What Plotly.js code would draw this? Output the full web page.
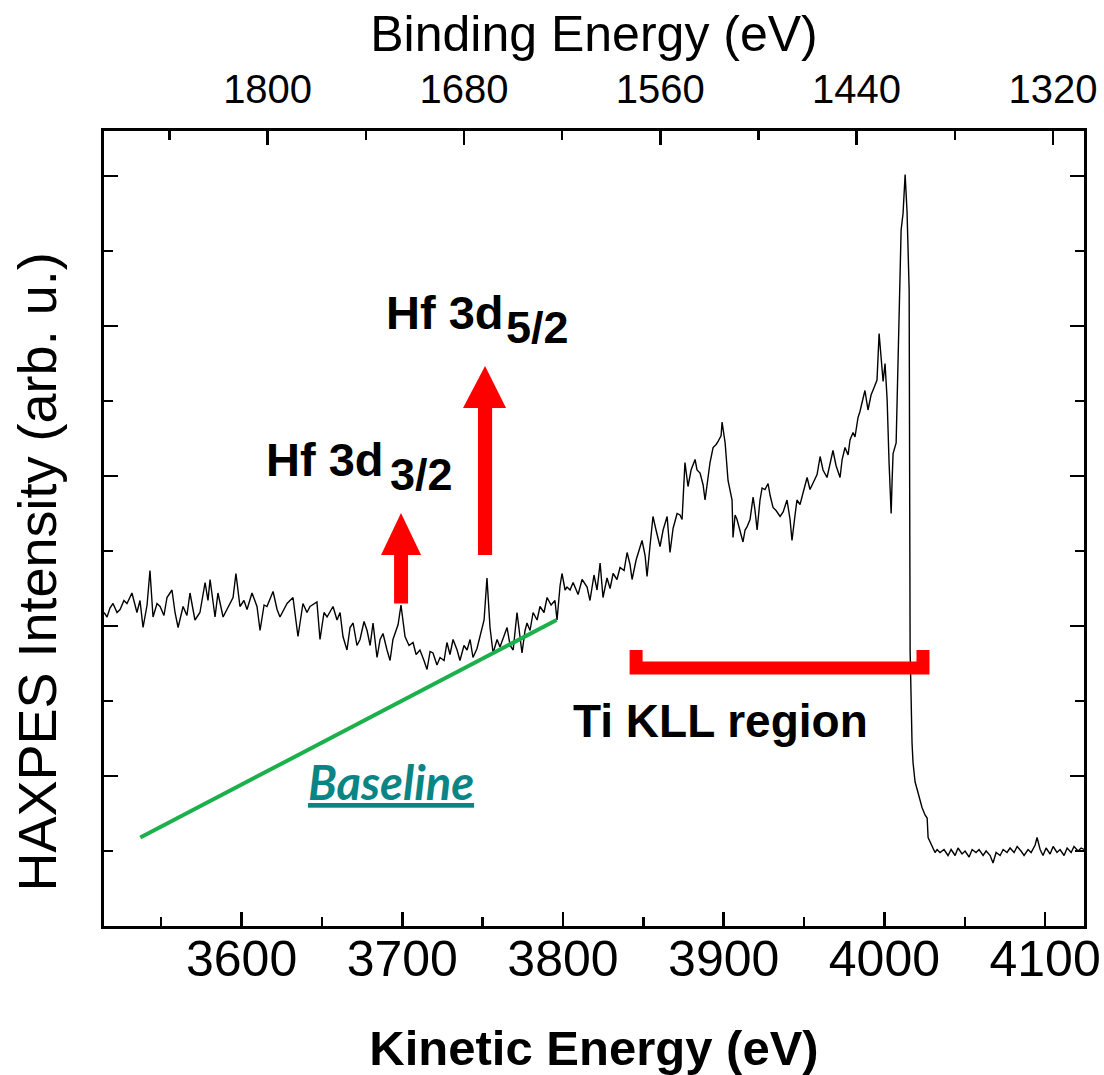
<!DOCTYPE html>
<html>
<head>
<meta charset="utf-8">
<script src="https://cdn.plot.ly/plotly-3.0.1.min.js"></script>
<style>html,body{margin:0;padding:0;background:#fff;}#chart{width:1104px;height:1075px;}</style>
</head>
<body>
<div id="chart"></div>
<script>
// Kinetic energy (eV) of the HAXPES spectrum
const kineticEnergy = [
3514.4,3516.3,3518.1,3520.0,3522.5,3524.4,3526.8,3528.7,3531.8,3534.9,3536.8,3538.7,3541.2,3543.0,3544.9,3547.4,3549.3,3551.7,3553.6,3556.7,
3558.6,3560.5,3563.6,3566.0,3567.9,3571.0,3574.1,3577.3,3579.1,3580.4,3583.5,3585.3,3588.5,3591.6,3594.7,3596.5,3599.0,3601.5,3603.4,3606.5,
3609.6,3611.5,3614.0,3615.8,3619.6,3622.1,3623.9,3628.3,3632.0,3635.1,3638.2,3640.7,3642.6,3646.9,3648.8,3651.3,3653.2,3656.9,3659.4,3661.3,
3663.1,3665.6,3667.5,3669.4,3671.8,3673.7,3676.2,3678.1,3680.0,3681.8,3684.3,3686.2,3688.0,3690.5,3692.4,3694.2,3695.5,3697.4,3699.2,3700.5,
3701.7,3704.2,3706.7,3708.6,3711.0,3713.5,3715.4,3717.3,3719.1,3721.6,3723.5,3726.0,3727.8,3729.7,3731.6,3734.1,3735.9,3738.4,3740.3,3742.2,
3744.0,3746.5,3748.4,3750.9,3752.7,3754.6,3756.5,3759.0,3760.8,3763.3,3765.2,3767.1,3769.0,3771.4,3773.3,3774.5,3776.4,3777.6,3779.5,3781.4,
3783.9,3785.7,3788.2,3790.1,3792.6,3795.0,3796.3,3798.2,3799.4,3801.3,3802.5,3804.4,3806.3,
3809.4,3811.9,3815.0,3816.8,3819.3,3821.2,3823.1,3824.9,3827.4,3829.3,3831.2,3833.6,3835.5,3838.0,3839.9,3841.7,3843.0,3845.5,3847.3,3849.2,
3851.1,3852.3,3854.2,3856.0,3857.9,3860.4,3862.3,3864.8,3866.6,3868.5,3871.0,3872.8,3874.1,3875.9,3877.8,3879.7,3882.2,3883.4,3885.3,3887.2,
3888.4,3890.3,3891.5,3893.4,3895.3,3896.5,3898.4,3899.0,3900.9,3902.7,3904.0,3905.2,3905.8,3907.1,3908.3,3910.2,3912.0,3913.3,3914.5,3916.4,
3918.3,3919.5,3920.8,3922.6,3923.9,3925.7,3927.6,3928.9,3930.7,3932.6,3935.1,3937.0,3939.4,3941.3,3942.5,3944.4,3945.6,3947.5,3949.4,3951.9,
3953.7,3955.6,3958.1,3960.0,3961.8,3964.3,3966.2,3968.0,3969.9,3972.4,3973.7,3975.5,3977.4,3978.6,3980.5,3981.7,3983.6,3984.8,3986.1,3987.9,
3989.8,3991.7,3993.6,3995.4,3996.7,3997.3,3997.9,3999.2,4000.4,4001.7,4002.9,4004.2,4004.8,4005.4,4007.3,4008.5,4009.7,4010.4,4011.6,4012.9,
4014.1,4015.4,4016.0,4016.6,4017.2,4017.8,4019.1,4020.9,4023.4,4025.3,4026.6,4027.2,4029.7,4031.5,4032.8,
4034.6,4037.1,4039.6,4041.5,4044.0,4045.8,4048.3,4050.2,4052.7,4054.6,4057.0,4058.9,4061.4,4063.3,4065.8,4067.6,4069.5,4072.0,4073.9,4076.3,
4078.2,4080.7,4082.6,4085.0,4086.9,4089.4,4091.3,4093.8,4095.0,4096.9,4098.7,4100.6,4103.1,4105.0,4107.4,4109.3,4111.8,4113.7,4116.2,4118.0,
4120.5,4122.4,4124.2
];
// HAXPES intensity (arb. u.)
const intensity = [
2.09,2.06,2.12,2.15,2.09,2.11,2.17,2.15,2.22,2.09,2.17,1.99,2.14,2.37,2.06,2.15,2.13,2.07,2.19,2.24,
2.09,1.99,2.13,2.07,2.22,2.04,2.09,2.29,2.17,2.31,2.06,2.22,2.06,2.13,2.19,2.35,2.13,2.17,2.11,2.22,
2.13,1.97,2.14,2.13,2.23,2.11,2.06,2.15,2.19,1.93,2.15,2.09,2.13,2.16,1.91,2.09,2.06,2.13,2.04,2.09,
1.93,1.84,1.99,2.02,1.87,1.91,2.03,1.97,1.87,2.02,1.79,1.91,1.95,1.84,1.77,1.91,1.95,2.01,2.14,2.03,
1.93,1.87,1.89,1.81,1.84,1.77,1.71,1.83,1.82,1.74,1.79,1.77,1.89,1.81,1.91,1.84,1.77,1.87,1.84,1.91,
1.79,1.85,1.93,2.04,2.32,1.99,1.82,1.91,1.86,1.94,1.99,1.87,1.84,2.09,1.91,1.82,1.97,2.02,1.97,2.09,
2.04,2.13,2.09,2.19,2.14,2.17,2.04,2.27,2.35,2.24,2.26,2.24,2.29,
2.21,2.31,2.26,2.17,2.34,2.24,2.42,2.19,2.32,2.25,2.35,2.31,2.39,2.37,2.49,2.41,2.31,2.44,2.51,2.57,
2.47,2.33,2.54,2.73,2.64,2.53,2.64,2.73,2.49,2.65,2.75,2.74,2.71,3.09,2.93,3.04,3.11,3.04,3.02,2.94,
2.84,3.01,3.09,3.19,3.21,3.23,3.27,3.36,3.22,2.97,2.91,2.84,2.59,2.74,2.71,2.64,2.56,2.64,2.66,2.71,
2.86,2.77,2.64,2.84,2.92,2.91,2.95,2.87,2.79,2.77,2.73,2.76,2.84,2.71,2.57,2.74,2.84,2.81,2.89,2.99,
2.91,2.95,3.01,3.13,3.04,2.99,3.09,3.17,3.07,2.99,3.11,3.19,3.14,3.24,3.29,3.26,3.39,3.43,3.49,3.57,
3.44,3.54,3.59,3.64,3.95,3.87,3.77,3.63,3.75,3.51,3.09,2.75,2.97,3.15,3.22,3.71,4.21,4.64,4.75,5.01,
4.76,4.24,1.84,1.49,1.22,1.09,0.96,0.89,0.79,0.74,0.72,0.59,0.53,0.49,0.51,
0.49,0.51,0.47,0.51,0.47,0.52,0.48,0.50,0.46,0.51,0.49,0.51,0.47,0.50,0.47,0.42,0.49,0.47,0.51,0.49,
0.52,0.49,0.53,0.50,0.47,0.51,0.49,0.54,0.59,0.51,0.47,0.52,0.48,0.53,0.49,0.51,0.47,0.52,0.49,0.53,
0.50,0.52,0.51
];
// Linear baseline drawn under the Hf 3d region
const baselineX = [3537, 3796];
const baselineY = [0.59, 2.04];

const kineticTicks = [3600, 3700, 3800, 3900, 4000, 4100];
const bindingTicks = [1800, 1680, 1560, 1440, 1320];

const FONT = 'Arial, "Liberation Sans", sans-serif';
const RED = '#ff0000';

const traces = [
  {x: kineticEnergy, y: intensity, type: 'scatter', mode: 'lines',
   line: {color: '#000000', width: 1.4}, hoverinfo: 'skip', showlegend: false},
  {x: baselineX, y: baselineY, type: 'scatter', mode: 'lines',
   line: {color: '#1cb04c', width: 4}, hoverinfo: 'skip', showlegend: false},
  // invisible carrier so the binding-energy (top) axis is drawn
  {x: bindingTicks, y: bindingTicks.map(() => 0), xaxis: 'x2', yaxis: 'y', type: 'scatter',
   mode: 'markers', marker: {opacity: 0}, hoverinfo: 'skip', showlegend: false}
];

const axisCommon = {
  showgrid: false, zeroline: false, showline: true, linecolor: '#000', linewidth: 3,
  ticks: 'inside', ticklen: 14, tickwidth: 2.5, tickcolor: '#000'
};

const layout = {
  width: 1104, height: 1075,
  margin: {l: 104, r: 20, t: 131, b: 149},
  paper_bgcolor: '#fff', plot_bgcolor: '#fff',
  showlegend: false,
  font: {family: FONT, color: '#000'},
  xaxis: Object.assign({}, axisCommon, {
    range: [3514.4, 4124.2], tickvals: kineticTicks, ticktext: kineticTicks.map(String),
    minor: {dtick: 50, tick0: 3550, ticks: 'inside', ticklen: 9, tickwidth: 2.5, tickcolor: '#000'},
    tickfont: {family: FONT, size: 50, color: '#000'}, ticklabelstandoff: -13,
    title: {text: '<b>Kinetic Energy (eV)</b>', font: {family: FONT, size: 49, color: '#000'}, standoff: 45},
    mirror: false, automargin: false
  }),
  xaxis2: Object.assign({}, axisCommon, {
    overlaying: 'x', side: 'top', anchor: 'y',
    range: [1900, 1301], tickvals: bindingTicks, ticktext: bindingTicks.map(String),
    minor: {dtick: 60, tick0: 1320, ticks: 'inside', ticklen: 9, tickwidth: 2.5, tickcolor: '#000'},
    tickfont: {family: FONT, size: 40, color: '#000'}, ticklabelstandoff: 9,
    title: {text: 'Binding Energy (eV)', font: {family: FONT, size: 50, color: '#000'}, standoff: 0},
    automargin: false
  }),
  yaxis: Object.assign({}, axisCommon, {
    range: [0, 5.3], dtick: 1, tick0: 0, showticklabels: false, mirror: 'ticks',
    minor: {dtick: 0.5, tick0: 0.5, ticks: 'inside', ticklen: 9, tickwidth: 2.5, tickcolor: '#000'},
    automargin: false
  }),
  shapes: [
    // Hf 3d3/2 arrow
    {type: 'rect', xref: 'x', yref: 'y', x0: 3694.9, x1: 3703.6, y0: 2.15, y1: 2.49,
     fillcolor: RED, line: {width: 0}},
    {type: 'path', xref: 'x', yref: 'y', path: 'M 3686.8 2.473 L 3711.7 2.473 L 3699.2 2.753 Z',
     fillcolor: RED, line: {width: 0}},
    // Hf 3d5/2 arrow
    {type: 'rect', xref: 'x', yref: 'y', x0: 3747.1, x1: 3755.9, y0: 2.473, y1: 3.47,
     fillcolor: RED, line: {width: 0}},
    {type: 'path', xref: 'x', yref: 'y', path: 'M 3737.8 3.453 L 3764.6 3.453 L 3751.5 3.733 Z',
     fillcolor: RED, line: {width: 0}},
    // Ti KLL bracket
    {type: 'path', xref: 'x', yref: 'y', path: 'M 3845.5 1.84 L 3845.5 1.72 L 4024.0 1.72 L 4024.0 1.84',
     line: {color: RED, width: 13}}
  ],
  annotations: [
    // y-axis title (placed off-centre like the original)
    {xref: 'paper', yref: 'paper', x: -0.068, y: 0.445, xanchor: 'center', yanchor: 'middle',
     showarrow: false, textangle: -90,
     text: 'HAXPES Intensity (arb. u.)', font: {family: FONT, size: 54, color: '#000'}},
    {xref: 'x', yref: 'y', x: 3688.5, y: 4.093, xanchor: 'left', yanchor: 'middle', showarrow: false,
     text: '<b>Hf 3d</b>', font: {family: FONT, size: 47, color: '#000'}},
    {xref: 'x', yref: 'y', x: 3763.6, y: 3.993, xanchor: 'left', yanchor: 'middle', showarrow: false,
     text: '<b>5/2</b>', font: {family: FONT, size: 45, color: '#000'}},
    {xref: 'x', yref: 'y', x: 3613.8, y: 3.113, xanchor: 'left', yanchor: 'middle', showarrow: false,
     text: '<b>Hf 3d</b>', font: {family: FONT, size: 47, color: '#000'}},
    {xref: 'x', yref: 'y', x: 3691.4, y: 3.013, xanchor: 'left', yanchor: 'middle', showarrow: false,
     text: '<b>3/2</b>', font: {family: FONT, size: 45, color: '#000'}},
    {xref: 'x', yref: 'y', x: 3805.0, y: 1.367, xanchor: 'left', yanchor: 'middle', showarrow: false,
     text: '<b>Ti KLL region</b>', font: {family: FONT, size: 46, color: '#000'}},
    {xref: 'x', yref: 'y', x: 3640.0, y: 0.96, xanchor: 'left', yanchor: 'middle', showarrow: false,
     text: '<b><i><u>Baseline</u></i></b>', font: {family: 'Lato, sans-serif', size: 47, color: '#0a8585'}}
  ]
};

Plotly.newPlot('chart', traces, layout, {staticPlot: true, displayModeBar: false});
</script>
</body>
</html>
